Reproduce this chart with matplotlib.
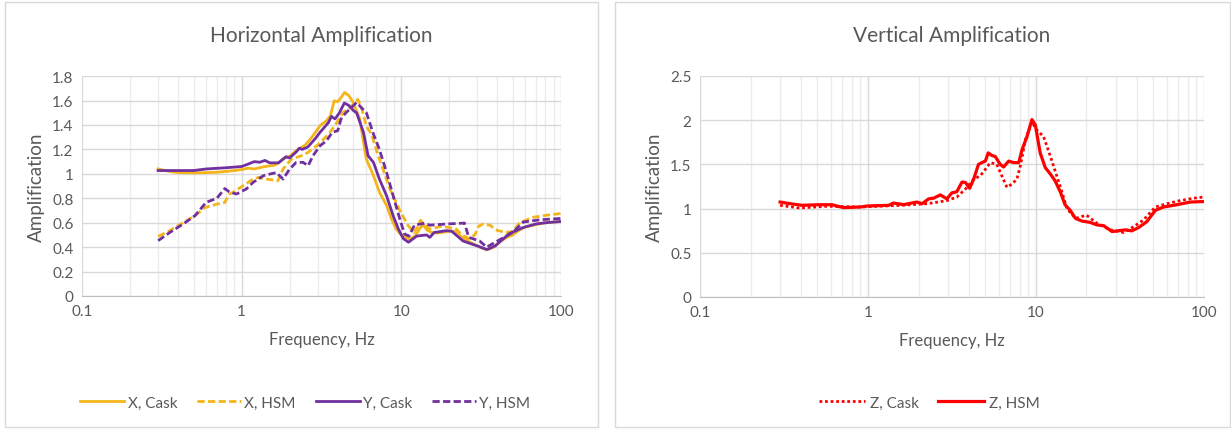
import numpy as np
import matplotlib
matplotlib.use("Agg")
import matplotlib.pyplot as plt
from matplotlib.ticker import FixedLocator, LogLocator, NullFormatter
from matplotlib.patches import Rectangle

plt.rcParams["font.family"] = ["Lato", "DejaVu Sans"]

# ---- horizontal data ----
f_x_cask = [0.3, 0.35, 0.4, 0.5, 0.6, 0.7, 0.8, 0.9, 1.0, 1.1, 1.2, 1.3, 1.4, 1.6, 1.7, 1.85,
            2.0, 2.2, 2.5, 2.7, 2.9, 3.1, 3.4, 3.6, 3.8, 4.0, 4.2, 4.42, 4.7, 5.0, 5.5, 5.8,
            6.05, 6.7, 7.3, 8.1, 8.7, 9.3, 10, 11.3, 12.2, 13.2, 13.8, 14.5, 15.5, 17, 20,
            22, 24, 27, 30, 33, 35, 38, 42, 46, 50, 55, 60, 70, 80, 100]
x_cask = [1.04, 1.02, 1.01, 1.008, 1.01, 1.013, 1.02, 1.027, 1.035, 1.046, 1.04, 1.05, 1.06,
          1.07, 1.087, 1.13, 1.144, 1.19, 1.236, 1.285, 1.34, 1.394, 1.435, 1.475, 1.598,
          1.59, 1.625, 1.667, 1.64, 1.585, 1.45, 1.26, 1.12, 0.985, 0.85, 0.74, 0.63, 0.548,
          0.50, 0.466, 0.49, 0.56, 0.58, 0.54, 0.52, 0.515, 0.53, 0.53, 0.48, 0.44, 0.41,
          0.385, 0.38, 0.40, 0.45, 0.48, 0.50, 0.54, 0.565, 0.585, 0.60, 0.61]

f_x_hsm = [0.3, 0.355, 0.43, 0.51, 0.59, 0.70, 0.785, 0.84, 0.89, 0.95, 1.1, 1.18, 1.27, 1.43,
           1.69, 1.82, 2.05, 2.37, 2.61, 2.96, 3.27, 3.58, 3.95, 4.3, 4.9, 5.34, 5.6, 6.05,
           6.5, 7.3, 8.5, 9.8, 11, 12, 12.6, 13.2, 14, 15, 16.5, 18, 20, 22, 24, 26.5, 28.9,
           30.5, 32.6, 35.9, 40.2, 45.8, 50, 55.2, 67, 80, 100]
x_hsm = [0.488, 0.535, 0.60, 0.657, 0.724, 0.752, 0.766, 0.835, 0.85, 0.876, 0.93, 0.957,
         0.97, 0.957, 0.944, 1.04, 1.12, 1.148, 1.176, 1.23, 1.285, 1.34, 1.42, 1.50, 1.557,
         1.61, 1.557, 1.39, 1.325, 1.12, 0.876, 0.70, 0.58, 0.52, 0.56, 0.62, 0.58, 0.55,
         0.56, 0.57, 0.56, 0.55, 0.50, 0.47, 0.50, 0.57, 0.589, 0.58, 0.535, 0.52, 0.53,
         0.60, 0.644, 0.66, 0.675]

f_y_cask = [0.3, 0.5, 0.6, 0.8, 1.0, 1.1, 1.2, 1.3, 1.4, 1.5, 1.7, 1.9, 2.0, 2.2, 2.3, 2.4,
            2.6, 2.9, 3.1, 3.5, 3.65, 3.85, 4.1, 4.4, 4.7, 5.0, 5.25, 5.8, 6.2, 6.7, 7.3,
            8.1, 8.9, 9.6, 10.3, 11.1, 12.5, 14.4, 15.1, 16.1, 19.2, 20.7, 24.4, 29.9, 34.4,
            38.8, 47.5, 58, 70, 81, 100]
y_cask = [1.027, 1.027, 1.04, 1.05, 1.06, 1.08, 1.10, 1.095, 1.11, 1.09, 1.09, 1.14, 1.13,
          1.18, 1.21, 1.20, 1.22, 1.29, 1.34, 1.42, 1.47, 1.45, 1.50, 1.58, 1.56, 1.52, 1.50,
          1.34, 1.148, 1.094, 0.957, 0.82, 0.657, 0.548, 0.47, 0.44, 0.49, 0.50, 0.48, 0.52,
          0.535, 0.53, 0.45, 0.41, 0.38, 0.41, 0.51, 0.56, 0.59, 0.60, 0.61]

f_y_hsm = [0.3, 0.355, 0.43, 0.51, 0.60, 0.70, 0.785, 0.84, 0.93, 1.07, 1.18, 1.37, 1.5, 1.65,
           1.82, 2.0, 2.2, 2.43, 2.61, 2.8, 3.1, 3.4, 3.7, 4.0, 4.2, 4.5, 4.9, 5.25, 5.6,
           6.05, 6.7, 7.3, 8.1, 8.9, 9.8, 10.5, 11.2, 12.1, 14, 15.1, 19.2, 24.9, 26.5, 31,
           34.3, 38.8, 50, 58, 74, 100]
y_hsm = [0.453, 0.52, 0.589, 0.657, 0.767, 0.80, 0.88, 0.85, 0.835, 0.876, 0.93, 0.985,
         0.998, 1.01, 0.957, 1.04, 1.094, 1.094, 1.066, 1.148, 1.23, 1.27, 1.34, 1.353, 1.45,
         1.50, 1.545, 1.585, 1.545, 1.50, 1.325, 1.20, 1.01, 0.82, 0.63, 0.507, 0.49, 0.58,
         0.595, 0.58, 0.589, 0.597, 0.48, 0.45, 0.40, 0.44, 0.52, 0.605, 0.624, 0.635]

# ---- vertical data ----
f_z_hsm = [0.3, 0.345, 0.405, 0.51, 0.61, 0.716, 0.9, 1.0, 1.33, 1.42, 1.63, 1.87, 1.96, 2.1,
           2.3, 2.46, 2.7, 2.95, 3.16, 3.38, 3.63, 3.8, 4.03, 4.26, 4.55, 4.84, 5.0, 5.2,
           5.47, 5.72, 6.13, 6.42, 6.88, 7.37, 7.9, 8.27, 8.85, 9.47, 9.92, 10.6, 11.37,
           12.2, 13.0, 14.0, 14.9, 16.0, 17.2, 18.8, 21.0, 23.1, 25.3, 28.4, 31.8, 34.0,
           37.2, 40.8, 45.7, 51.4, 57.6, 69, 83, 100]
z_hsm = [1.074, 1.055, 1.037, 1.044, 1.044, 1.011, 1.018, 1.03, 1.037, 1.063, 1.044, 1.067,
         1.074, 1.055, 1.11, 1.118, 1.155, 1.11, 1.178, 1.19, 1.30, 1.296, 1.23, 1.333, 1.50,
         1.526, 1.537, 1.63, 1.60, 1.59, 1.50, 1.47, 1.537, 1.52, 1.52, 1.667, 1.815, 2.007,
         1.944, 1.63, 1.463, 1.39, 1.315, 1.185, 1.044, 0.98, 0.889, 0.859, 0.844, 0.815,
         0.807, 0.74, 0.752, 0.759, 0.748, 0.785, 0.852, 0.98, 1.018, 1.044, 1.074, 1.08]

f_z_cask = [0.3, 0.39, 0.57, 0.9, 1.5, 2.25, 2.95, 3.38, 3.8, 4.26, 4.66, 5.0, 5.35, 5.85,
            6.27, 6.72, 7.2, 7.7, 8.07, 8.66, 9.47, 10.1, 11.1, 12.2, 13.3, 14.3, 15.3, 17.2,
            20, 23.1, 27.6, 33.3, 38.2, 43.6, 51.4, 60, 72, 87, 100]
z_cask = [1.037, 1.007, 1.026, 1.018, 1.035, 1.055, 1.09, 1.13, 1.22, 1.333, 1.37, 1.444,
          1.52, 1.50, 1.37, 1.24, 1.278, 1.333, 1.48, 1.78, 1.98, 1.89, 1.815, 1.59, 1.37,
          1.185, 1.0, 0.889, 0.926, 0.833, 0.76, 0.73, 0.796, 0.87, 1.018, 1.055, 1.09,
          1.118, 1.13]

GOLD = "#F3B51A"
PURPLE = "#7030A0"
RED = "#FF0000"
TXT = "#595959"
DASH = (0, (2.6, 1.2))
DOT = (0, (1, 1))

fig = plt.figure(figsize=(12.31, 4.31), dpi=100)

# panel borders
for x0, w in [(0.004, 0.482), (0.4995, 0.4995)]:
    fig.patches.append(Rectangle((x0, 0.007), w, 0.986, transform=fig.transFigure,
                                 fill=False, edgecolor="#D9D9D9", lw=1))


def style_axes(ax, ymax, ystep, title):
    ax.set_xscale("log")
    ax.set_xlim(0.1, 100)
    ax.set_ylim(0, ymax)
    ax.yaxis.set_major_locator(FixedLocator(np.arange(0, ymax + 1e-9, ystep)))
    ax.set_yticklabels(["%g" % v for v in np.arange(0, ymax + 1e-9, ystep)])
    ax.xaxis.set_major_locator(FixedLocator([0.1, 1, 10, 100]))
    ax.set_xticklabels(["0.1", "1", "10", "100"])
    ax.xaxis.set_minor_locator(LogLocator(base=10, subs=np.arange(2, 10)))
    ax.xaxis.set_minor_formatter(NullFormatter())
    ax.grid(which="major", color="#D9D9D9", lw=1)
    ax.grid(which="minor", axis="x", color="#ECECEC", lw=1)
    ax.set_axisbelow(True)
    for s in ["top", "right", "left"]:
        ax.spines[s].set_visible(False)
    ax.spines["bottom"].set_color("#BFBFBF")
    ax.tick_params(which="both", length=0, labelsize=11, colors=TXT, pad=6)
    ax.set_title(title, fontsize=15, color=TXT, pad=25)
    ax.set_xlabel("Frequency, Hz", fontsize=12, color=TXT, labelpad=9)
    ax.set_ylabel("Amplification", fontsize=13.5, color=TXT, labelpad=5)


ax1 = fig.add_axes([0.0666, 0.311, 0.389, 0.510])
ax1.plot(f_x_cask, x_cask, color=GOLD, lw=2, label="X, Cask")
ax1.plot(f_x_hsm, x_hsm, color=GOLD, lw=2, ls=DASH, label="X, HSM")
ax1.plot(f_y_cask, y_cask, color=PURPLE, lw=2, label="Y, Cask")
ax1.plot(f_y_hsm, y_hsm, color=PURPLE, lw=2, ls=DASH, label="Y, HSM")
style_axes(ax1, 1.8, 0.2, "Horizontal Amplification")
ax1.legend(loc="center", bbox_to_anchor=(0.248, 0.063), bbox_transform=fig.transFigure,
           ncol=4, frameon=False, fontsize=11, handlelength=2.9, columnspacing=1.3,
           labelcolor=TXT, handletextpad=0.2)

ax2 = fig.add_axes([0.5686, 0.3086, 0.4094, 0.5128])
ax2.plot(f_z_cask, z_cask, color=RED, lw=2, ls=DOT, label="Z, Cask")
ax2.plot(f_z_hsm, z_hsm, color=RED, lw=2.3, label="Z, HSM")
style_axes(ax2, 2.5, 0.5, "Vertical Amplification")
ax2.legend(loc="center", bbox_to_anchor=(0.755, 0.063), bbox_transform=fig.transFigure,
           ncol=2, frameon=False, fontsize=11, handlelength=3.0, columnspacing=1.3,
           labelcolor=TXT, handletextpad=0.3)

fig.savefig("out.png", dpi=100)
